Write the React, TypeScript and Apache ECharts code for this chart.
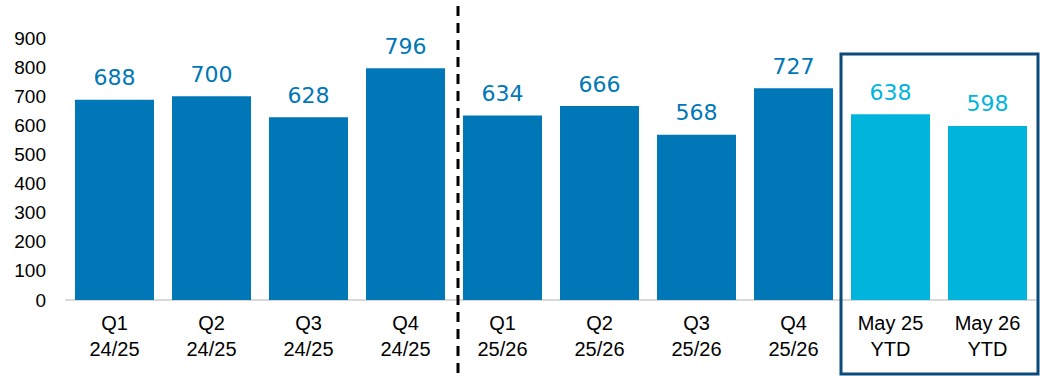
import React, { useEffect, useRef } from "react";
import * as echarts from "echarts";

const categories = ["Q1\n24/25", "Q2\n24/25", "Q3\n24/25", "Q4\n24/25", "Q1\n25/26", "Q2\n25/26", "Q3\n25/26", "Q4\n25/26", "May 25\nYTD", "May 26\nYTD"];
const values = [688, 700, 628, 796, 634, 666, 568, 727, 638, 598];
const isYtd = [false, false, false, false, false, false, false, false, true, true];
const yTicks = [0, 100, 200, 300, 400, 500, 600, 700, 800, 900];

const DARK = "#0077B6";
const LIGHT = "#00B4DC";

export default function App() {
  const ref = useRef<HTMLDivElement>(null);
  useEffect(() => {
    document.body.style.margin = "0";
    const chart = echarts.init(ref.current!, null, { renderer: "svg" });
    chart.setOption({
      animation: false,
      grid: { left: 66, right: 4, top: 38, bottom: 76 },
      xAxis: {
        type: "category",
        data: categories,
        axisLine: { lineStyle: { color: "#d9d9d9", width: 2 } },
        axisTick: { show: false },
        axisLabel: {
          color: "#000",
          fontSize: 20,
          fontFamily: "Liberation Sans, Arial, sans-serif",
          lineHeight: 26,
          margin: 10,
          interval: 0,
        },
      },
      yAxis: {
        type: "value",
        min: yTicks[0],
        max: yTicks[yTicks.length - 1],
        interval: 100,
        splitLine: { show: false },
        axisLine: { show: false },
        axisTick: { show: false },
        axisLabel: {
          color: "#000",
          fontSize: 19,
          fontFamily: "Liberation Sans, Arial, sans-serif",
          margin: 20,
        },
      },
      series: [
        {
          type: "bar",
          barWidth: 79,
          data: values.map((v, i) => ({
            value: v,
            itemStyle: { color: isYtd[i] ? LIGHT : DARK },
            label: { color: isYtd[i] ? LIGHT : DARK },
          })),
          label: {
            show: true,
            position: "top",
            distance: 11,
            fontSize: 22,
            fontFamily: "DejaVu Sans, sans-serif",
          },
        },
      ],
    });
    const p3 = chart.convertToPixel({ xAxisIndex: 0 }, 3) as number;
    const p4 = chart.convertToPixel({ xAxisIndex: 0 }, 4) as number;
    const p7 = chart.convertToPixel({ xAxisIndex: 0 }, 7) as number;
    const p8 = chart.convertToPixel({ xAxisIndex: 0 }, 8) as number;
    const divX = (p3 + p4) / 2 + 4;
    const boxX = (p7 + p8) / 2 - 1;
    chart.setOption({
      graphic: [
        {
          type: "line",
          shape: { x1: divX, y1: 6, x2: divX, y2: 376 },
          style: { stroke: "#000", lineWidth: 3, lineDash: [10, 7] },
          z: 10,
        },
        {
          type: "rect",
          shape: { x: boxX, y: 54, width: 1038 - boxX, height: 320 },
          style: { fill: "none", stroke: "#0B4A7A", lineWidth: 3 },
          z: 10,
        },
      ],
    });
    return () => chart.dispose();
  }, []);
  return <div ref={ref} style={{ width: 1040, height: 376 }} />;
}
